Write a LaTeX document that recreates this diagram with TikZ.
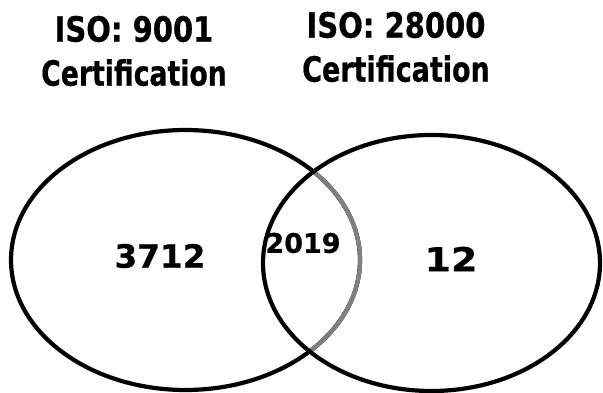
\documentclass[tikz,border=0pt]{standalone}
\usepackage{fontspec}
\setmainfont{DejaVu Sans}[BoldFeatures={FakeBold=0.7}]
\usepackage{tikz}
\tikzstyle{heading} = [font=\bfseries\fontsize{29}{44}\selectfont, align=center, inner sep=0pt]
\tikzstyle{tally} = [font=\bfseries\fontsize{32}{34}\selectfont, inner sep=0pt]

\begin{document}
\begin{tikzpicture}[x=1pt,y=-1pt]
			\tikzset{set/.style={line width=4.2pt}}
\useasboundingbox (0,0) rectangle (603,393);
\coordinate (a) at (185.5,260);
\coordinate (b) at (431.5,263);

\draw[set] (a) ellipse [x radius=174.5, y radius=130];
\begin{scope}
	\clip (b) ellipse [x radius=168.5, y radius=128];
	\draw[set, gray] (a) ellipse [x radius=174.5, y radius=130];
\end{scope}
\draw[set] (b) ellipse [x radius=168.5, y radius=128];

\node[heading] (ta) at (134,51) {\scalebox{1}[1.2]{ISO: 9001}\\\scalebox{0.92}[1.2]{Certification}};
\node[heading] (tb) at (396,47) {\scalebox{1}[1.2]{ISO: 28000}\\\scalebox{0.93}[1.2]{Certification}};

\node[tally] (na) at (160,256) {\scalebox{1.02}[1]{3712}};
\node[tally, font=\bfseries\fontsize{27}{29}\selectfont] (nab) at (303,243) {2019};
\node[tally, font=\bfseries\fontsize{33}{35}\selectfont] (nb) at (451,259) {\scalebox{1.15}[1]{12}};

		\end{tikzpicture}
\end{document}
